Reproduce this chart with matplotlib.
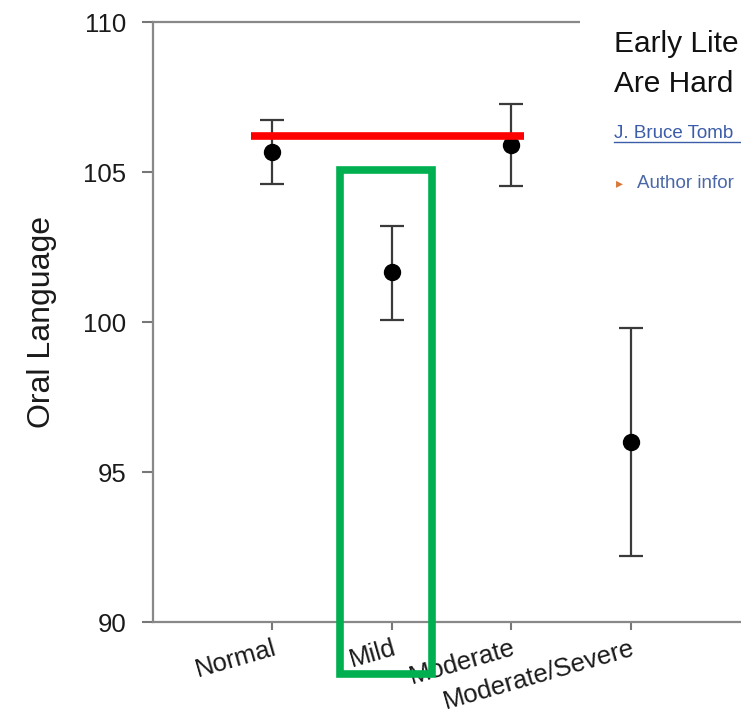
import numpy as np
import matplotlib.pyplot as plt
from matplotlib.patches import Rectangle

plt.rcParams['font.family'] = ['Liberation Sans', 'DejaVu Sans']

# ─── DATA ───────────────────────────────────────────────────────────────
groups = ['Normal', 'Mild', 'Moderate', 'Moderate/Severe']
means = [105.67, 101.67, 105.9, 96.0]
upper = [106.73, 103.2, 107.27, 99.8]
lower = [104.6, 100.07, 104.53, 92.2]
y_ticks = [90, 95, 100, 105, 110]

# annotation overlays drawn on the screenshot
red_level = 106.2
red_span = (-0.18, 2.11)
green_box = (0.57, 88.27, 1.34, 105.07)   # x0, y0, x1, y1 in data units

# ─── PLOT ───────────────────────────────────────────────────────────────
W, H = 741, 713
fig = plt.figure(figsize=(W / 100, H / 100), dpi=100)
fig.patch.set_facecolor('white')
ax = fig.add_axes([153 / W, 91 / H, 597 / W, 600 / H])

x = np.arange(len(groups))
m = np.array(means)
yerr = np.vstack([m - np.array(lower), np.array(upper) - m])
ax.errorbar(x, m, yerr=yerr, fmt='o', color='black', ms=11.5,
            ecolor='#3a3a3a', elinewidth=1.6, capsize=8.5, capthick=1.6, zorder=3)

ax.set_xlim(-1, 4)
ax.set_ylim(90, 110)
ax.set_yticks(y_ticks)
ax.set_xticks(x)
ax.set_xticklabels(groups, rotation=16, ha='right', rotation_mode='anchor',
                   fontsize=18.5, color='#1a1a1a')
ax.tick_params(axis='y', length=8, width=1.5, color='#777777', pad=11,
               labelsize=18.5, labelcolor='#1a1a1a')
ax.tick_params(axis='x', length=6, width=1.5, color='#777777', pad=4)
ax.set_ylabel('Oral Language', fontsize=23, color='#1a1a1a')
ax.yaxis.set_label_coords(-0.16, 0.5)

ax.spines['right'].set_visible(False)
for side in ['left', 'top', 'bottom']:
    ax.spines[side].set_color('#888888')
    ax.spines[side].set_linewidth(1.6)

# red reference line
ax.plot(red_span, [red_level, red_level], color='#ff0000', lw=5.5,
        solid_capstyle='butt', zorder=4)

# green highlight box
gx0, gy0, gx1, gy1 = green_box
ax.add_patch(Rectangle((gx0, gy0), gx1 - gx0, gy1 - gy0, fill=False,
                       edgecolor='#00b050', lw=5.5, clip_on=False, zorder=5))

# webpage panel overlapping the top right of the chart (cut by the screenshot edge)
fig.add_artist(Rectangle((580 / W, 1 - 215 / H), 161 / W, 215 / H,
                         transform=fig.transFigure, facecolor='white',
                         edgecolor='none', zorder=10))
fig.text(614 / W, 1 - 52 / H, 'Early Lite', fontsize=21.5, color='#111111',
         zorder=11)
fig.text(614 / W, 1 - 92 / H, 'Are Hard', fontsize=21.5, color='#111111',
         zorder=11)
fig.text(614 / W, 1 - 138 / H, 'J. Bruce Tomb', fontsize=13.5,
         color='#3b5ca8', zorder=11)
fig.add_artist(plt.Line2D([614 / W, 1.0], [1 - 142 / H, 1 - 142 / H],
                          transform=fig.transFigure, color='#3b5ca8', lw=1,
                          zorder=11))
fig.text(616 / W, 1 - 187 / H, '\u25B8', fontsize=10, color='#d8793a', zorder=11)
fig.text(637 / W, 1 - 188 / H, 'Author infor', fontsize=13.5,
         color='#4a68a8', zorder=11)

fig.savefig('out.png', dpi=100)
